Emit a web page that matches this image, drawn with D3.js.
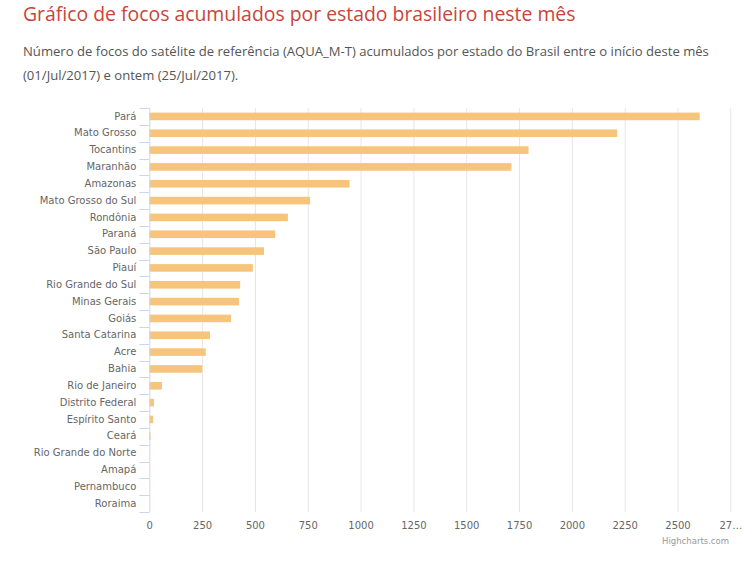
<!DOCTYPE html>
<html>
<head>
<meta charset="utf-8">
<script src="https://cdn.jsdelivr.net/npm/d3@7"></script>
<style>
  body { margin: 0; background: #fff; }
  #chart { width: 743px; height: 562px; }
</style>
</head>
<body>
<div id="chart"></div>
<script>
// data
const estados = ['Pará', 'Mato Grosso', 'Tocantins', 'Maranhão', 'Amazonas',
  'Mato Grosso do Sul', 'Rondônia', 'Paraná', 'São Paulo', 'Piauí',
  'Rio Grande do Sul', 'Minas Gerais', 'Goiás', 'Santa Catarina', 'Acre',
  'Bahia', 'Rio de Janeiro', 'Distrito Federal', 'Espírito Santo', 'Ceará',
  'Rio Grande do Norte', 'Amapá', 'Pernambuco', 'Roraima']
const focos = [2605, 2214, 1795, 1714, 948, 761, 656, 596, 543, 490,
  430, 425, 387, 287, 267, 250, 60, 22, 18, 6, 0, 0, 0, 0]
const tickValues = [0, 250, 500, 750, 1000, 1250, 1500, 1750, 2000, 2250, 2500, 2750]
const tickLabels = ['0', '250', '500', '750', '1000', '1250', '1500', '1750', '2000', '2250', '2500', '27…']

const titulo = 'Gráfico de focos acumulados por estado brasileiro neste mês'
const subtitulo = [
  'Número de focos do satélite de referência (AQUA_M-T) acumulados por estado do Brasil entre o início deste mês',
  '(01/Jul/2017) e ontem (25/Jul/2017).'
]

// chart setting
const chart = { width: 743, height: 562 }
const plot = { left: 149.3, right: 730.3, top: 108, bottom: 512 }

const svg = d3.select('#chart')
  .append('svg')
    .attr('width', chart.width)
    .attr('height', chart.height)

// header
svg.append('text')
  .text(titulo)
  .attr('x', 23)
  .attr('y', 21)
  .attr('font-family', 'Open Sans')
  .attr('font-size', '19.4px')
  .attr('fill', '#c9453a')

svg.append('g')
  .selectAll('text')
  .data(subtitulo)
  .join('text')
    .text(d => d)
    .attr('x', 23)
    .attr('y', (d, i) => 56 + i * 24)
    .attr('font-family', 'Open Sans')
    .attr('font-size', '13.1px')
    .attr('fill', '#555')

// scales
const xScale = d3.scaleLinear()
  .domain([0, 2750])
  .range([plot.left, plot.right])

const yScale = d3.scaleBand()
  .domain(estados)
  .range([plot.top, plot.bottom])

// grid
svg.append('g')
  .selectAll('line')
  .data(tickValues.slice(1))
  .join('line')
    .attr('x1', d => xScale(d) + 0.5)
    .attr('x2', d => xScale(d) + 0.5)
    .attr('y1', plot.top)
    .attr('y2', plot.bottom)
    .attr('stroke', '#e6e6e6')

// x axis labels
const xAxis = d3.axisBottom(xScale)
  .tickValues(tickValues)
  .tickFormat((d, i) => tickLabels[i])
  .tickSize(0)
  .tickPadding(0)

const bottomAxis = svg.append('g')
  .attr('transform', `translate(0, ${plot.bottom + 10})`)
  .call(xAxis)
bottomAxis.select('.domain').remove()
bottomAxis.selectAll('text')
  .attr('font-family', 'DejaVu Sans')
  .attr('font-size', '10px')
  .attr('fill', '#666')

// bars
const barH = 7.6
svg.append('g')
  .selectAll('rect')
  .data(focos)
  .join('rect')
    .attr('x', xScale(0))
    .attr('y', (d, i) => yScale(estados[i]) + yScale.bandwidth() / 2 - barH / 2)
    .attr('width', d => xScale(d) - xScale(0))
    .attr('height', barH)
    .attr('fill', '#f7c47c')

// y axis
const yAxis = d3.axisLeft(yScale)
  .tickSize(0)
  .tickPadding(13)

const leftAxis = svg.append('g')
  .attr('transform', `translate(${plot.left}, 0)`)
  .call(yAxis)
leftAxis.select('.domain')
  .attr('stroke', '#ccd6eb')
  .attr('d', `M0.5,${plot.top}V${plot.bottom}`)
leftAxis.selectAll('text')
  .attr('font-family', 'DejaVu Sans')
  .attr('font-size', '10px')
  .attr('fill', '#666')

// category boundary ticks
const bounds = estados.map(e => yScale(e)).concat([plot.bottom])
leftAxis.append('g')
  .selectAll('line')
  .data(bounds)
  .join('line')
    .attr('x1', -10)
    .attr('x2', 0)
    .attr('y1', d => Math.round(d) + 0.5)
    .attr('y2', d => Math.round(d) + 0.5)
    .attr('stroke', '#ccd6eb')

// credits
svg.append('text')
  .text('Highcharts.com')
  .attr('x', 729)
  .attr('y', 544)
  .attr('text-anchor', 'end')
  .attr('font-family', 'DejaVu Sans')
  .attr('font-size', '8.5px')
  .attr('fill', '#999')
</script>
</body>
</html>
